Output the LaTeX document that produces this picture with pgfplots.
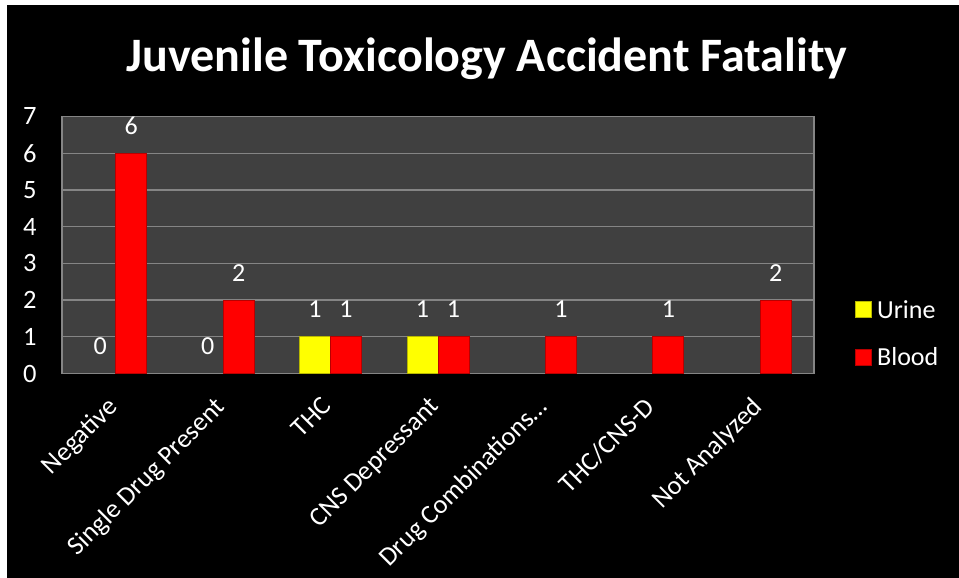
\documentclass[border=0pt]{standalone}
\usepackage{fontspec}
\setmainfont{Carlito}
\usepackage{pgfplots}
\pgfplotsset{compat=1.18}
\definecolor{plotbg}{HTML}{404040}
\definecolor{gridc}{HTML}{858585}
\definecolor{barred}{HTML}{FF0000}
\definecolor{barreddk}{HTML}{B80000}
\definecolor{baryel}{HTML}{FFFF00}
\definecolor{baryeldk}{HTML}{B8B800}
\begin{document}
\begin{tikzpicture}
\useasboundingbox (0pt,0pt) rectangle (959pt,578pt);
\fill[white] (0pt,0pt) rectangle (959pt,578pt);
\fill[black] (7pt,0pt) rectangle (959pt,573pt);
\node[text=white, anchor=base, font=\fontsize{48}{54}\bfseries\selectfont] at (487pt,506pt) {Juvenile Toxicology Accident Fatality};
\begin{axis}[
  at={(62pt,204.5pt)}, anchor=south west,
  scale only axis, width=752pt, height=257pt,
  ybar, bar width=31pt,
  xmin=-0.5, xmax=6.5, ymin=0, ymax=7,
  xtick={0,1,...,6},
  xticklabels={Negative,Single Drug Present,THC,CNS Depressant,Drug Combinations…,THC/CNS-D,Not Analyzed},
  ytick={0,1,...,7},
  major tick length=0pt,
  ymajorgrids, grid style={gridc, line width=1.3pt},
  axis line style={gridc, line width=1.3pt},
  axis background/.style={fill=plotbg},
  /pgf/number format/assume math mode=true,
  tick label style={text=white, font=\fontsize{26.5}{30}\selectfont},
  yticklabel style={xshift=-22pt},
  xticklabel style={xshift=-10pt, yshift=-17pt, rotate=45, anchor=north east},
  nodes near coords,
  every node near coord/.append style={text=white, font=\fontsize{26}{30}\selectfont, anchor=south, yshift=15pt},
  legend style={font=\fontsize{26}{30}\selectfont, text=white, draw=none, fill=none,
     at={(1.0545,0.155)}, anchor=west, inner sep=0pt, row sep=24pt},
  legend cell align=left,
  legend image code/.code={\fill[#1] (0pt,-8pt) rectangle (16pt,8pt);\draw[#1, fill=none] (0pt,-8pt) rectangle (16pt,8pt);\path (19pt,0pt);},
]
\addplot[bar shift=-15.5pt, fill=baryel, draw=baryeldk, line width=1pt] coordinates {(2,1) (3,1)};
\addplot[bar shift=15.5pt, fill=barred, draw=barreddk, line width=1pt] coordinates {(0,6) (1,2) (2,1) (3,1) (4,1) (5,1) (6,2)};
\addplot[forget plot, bar shift=-15.5pt, fill=none, draw=none] coordinates {(0,0) (1,0)};
\legend{Urine,Blood}
\end{axis}
\end{tikzpicture}
\end{document}
